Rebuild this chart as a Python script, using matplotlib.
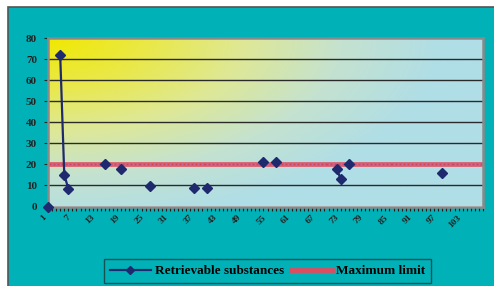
import numpy as np
import matplotlib
matplotlib.use('Agg')
import matplotlib.pyplot as plt
from matplotlib.lines import Line2D
from matplotlib.patches import Rectangle

# observed samples (category number -> value)
sample_no = [1, 4, 5, 6, 15, 19, 26, 37, 40, 54, 57, 72, 73, 75, 98]
retrievable = [0, 72, 15, 8.5, 20, 18, 9.5, 9, 9, 21, 21, 18, 13, 20, 16]
max_limit = 20
n_cat = 108
tick_labels = [str(i) for i in range(1, 104, 6)]

plt.rcParams['font.family'] = ['Liberation Serif', 'DejaVu Serif']
plt.rcParams['font.weight'] = 'bold'

teal = '#00B2B8'
navy = '#1F2A6E'
red = '#E24A5E'

fig = plt.figure(figsize=(4.94, 2.86), dpi=100, facecolor='white')
fig.patches.append(Rectangle((8 / 494, -0.01), 1.0, (279 / 286) + 0.01,
                             transform=fig.transFigure, facecolor=teal,
                             edgecolor='#555555', linewidth=1.2, zorder=-5))

ax = fig.add_axes([48 / 494, (286 - 206.5) / 286, (483 - 48) / 494, (206.5 - 38) / 286])
ax.set_zorder(1)

# full series with gaps where no sample exists
x_all = np.arange(1, n_cat + 1)
y_all = np.full(n_cat, np.nan)
y_all[np.array(sample_no) - 1] = retrievable

# gradient background: yellow in the top-left corner fading to light blue
h, w = 200, 400
v, u = np.mgrid[0:1:h * 1j, 0:1:w * 1j]
t = np.clip(np.sqrt((u / 0.9) ** 2 + (v / 1.1) ** 2), 0, 1)
stops = [0.0, 0.25, 0.5, 0.75, 1.0]
r = np.interp(t, stops, [240, 234, 222, 196, 176])
g = np.interp(t, stops, [232, 232, 232, 226, 222])
b = np.interp(t, stops, [0, 70, 150, 208, 230])
img = np.dstack([r, g, b]) / 255
ax.imshow(img, extent=[1, n_cat, 0, 80], aspect='auto', zorder=0, interpolation='bilinear')

for gl in range(10, 80, 10):
    ax.axhline(gl, color='#2a2a2a', lw=1.0, zorder=1)

ax.plot(x_all, [max_limit] * n_cat, color=red, lw=3.4, marker='s', ms=2,
        mfc='#C870A0', mec='none', zorder=2, alpha=0.9)
ax.plot(x_all, y_all, color=navy, lw=1.6, marker='D', ms=5.5, zorder=3, clip_on=False)

ax.set_xlim(1, n_cat)
ax.set_ylim(0, 80)
ax.set_yticks(range(0, 81, 10))
ax.set_xticks(range(1, 104, 6))
ax.set_xticklabels(tick_labels, rotation=45, ha='right', fontsize=6.8)
ax.set_xticks(x_all, minor=True)
ax.tick_params(axis='x', which='both', direction='out', length=3, width=0.8, pad=2, colors='#222222')
ax.tick_params(axis='y', length=3, labelsize=8, pad=5, colors='#222222')
for sp in ax.spines.values():
    sp.set_color('#8a8a8a')
    sp.set_linewidth(1.8)

handles = [Line2D([], [], color=navy, lw=1.6, marker='D', ms=4),
           Line2D([], [], color=red, lw=3.4)]
leg = fig.legend(handles, ['Retrievable substances', 'Maximum limit'],
                 loc='upper left', bbox_to_anchor=(104 / 494, 27 / 286),
                 ncol=2, frameon=True, fancybox=False,
                 prop={'family': 'Liberation Serif', 'weight': 'bold', 'size': 9.5},
                 handlelength=3.1, handletextpad=0.3, columnspacing=0.5,
                 borderaxespad=0, borderpad=0.45)
leg.get_frame().set_facecolor(teal)
leg.get_frame().set_edgecolor('#1a3a3a')
leg.get_frame().set_linewidth(1.0)

fig.savefig('out.png', dpi=100, facecolor='white')
